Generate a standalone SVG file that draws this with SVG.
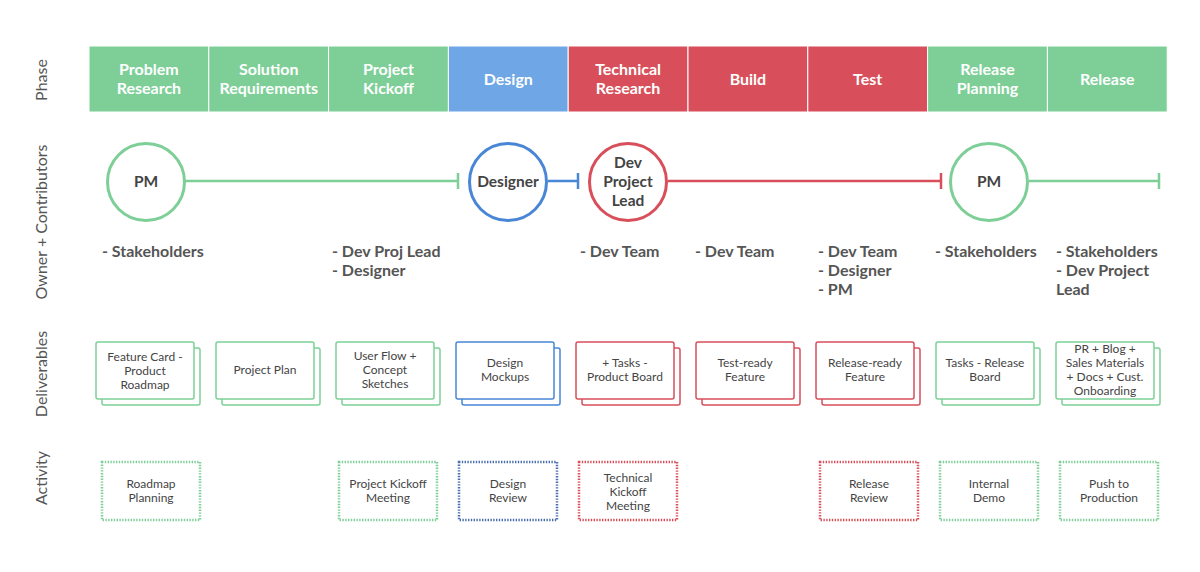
<svg xmlns="http://www.w3.org/2000/svg" width="1200" height="572" viewBox="0 0 1200 572">
<style>
.ph{stroke:#fff;stroke-width:1}
.g{fill:#7dcf97}.b{fill:#6ea6e6}.r{fill:#d84f5b}
.pt{font-family:Lato,"Liberation Sans",sans-serif;font-size:16px;font-weight:bold;fill:#fff;text-anchor:middle}
.rl{font-family:Lato,"Liberation Sans",sans-serif;font-size:16px;fill:#555;text-anchor:middle}
.ct{font-family:Lato,"Liberation Sans",sans-serif;font-size:16px;font-weight:bold;fill:#555}
.cn{font-family:Lato,"Liberation Sans",sans-serif;font-size:15.5px;font-weight:bold;fill:#444;text-anchor:middle}
.bt{font-family:Lato,"Liberation Sans",sans-serif;font-size:12px;fill:#444;text-anchor:middle}
.circ{fill:#fff;stroke-width:3}
.box{fill:#fff;stroke-width:1.5}
.act{fill:#fff;stroke-width:2.5;stroke-dasharray:1.4 1.4}
.sg{stroke:#7dcf97}.sb{stroke:#4a86d6}.sr{stroke:#d84f5b}.sbd{stroke:#4a6fae}
.ln{stroke-width:2.5;fill:none}
</style>

<g id="row-labels">
<text class="rl" transform="translate(47,80) rotate(-90)">Phase</text>
<text class="rl" transform="translate(47,222) rotate(-90)">Owner + Contributors</text>
<text class="rl" transform="translate(47,374) rotate(-90)">Deliverables</text>
<text class="rl" transform="translate(47,478) rotate(-90)">Activity</text>
</g>

<g id="phases">
<g id="phase-1"><rect class="ph g" x="89" y="46" width="119.8" height="66"/><text class="pt" x="148.9" y="75">Problem</text><text class="pt" x="148.9" y="94">Research</text></g>
<g id="phase-2"><rect class="ph g" x="208.8" y="46" width="119.8" height="66"/><text class="pt" x="268.7" y="75">Solution</text><text class="pt" x="268.7" y="94">Requirements</text></g>
<g id="phase-3"><rect class="ph g" x="328.6" y="46" width="119.8" height="66"/><text class="pt" x="388.5" y="75">Project</text><text class="pt" x="388.5" y="94">Kickoff</text></g>
<g id="phase-4"><rect class="ph b" x="448.4" y="46" width="119.8" height="66"/><text class="pt" x="508.3" y="85">Design</text></g>
<g id="phase-5"><rect class="ph r" x="568.2" y="46" width="119.8" height="66"/><text class="pt" x="628.1" y="75">Technical</text><text class="pt" x="628.1" y="94">Research</text></g>
<g id="phase-6"><rect class="ph r" x="688" y="46" width="119.8" height="66"/><text class="pt" x="747.9" y="85">Build</text></g>
<g id="phase-7"><rect class="ph r" x="807.8" y="46" width="119.8" height="66"/><text class="pt" x="867.7" y="85">Test</text></g>
<g id="phase-8"><rect class="ph g" x="927.6" y="46" width="119.8" height="66"/><text class="pt" x="987.5" y="75">Release</text><text class="pt" x="987.5" y="94">Planning</text></g>
<g id="phase-9"><rect class="ph g" x="1047.4" y="46" width="119.8" height="66"/><text class="pt" x="1107.3" y="85">Release</text></g>
</g>

<g id="connectors">
<path class="ln sg" d="M185 181H458M458 173V189"/>
<path class="ln sb" d="M548 181H578M578 173V189"/>
<path class="ln sr" d="M668 181H941M941 173V189"/>
<path class="ln sg" d="M1029 181H1159M1159 173V189"/>
</g>

<g id="owner-pm-1"><circle class="circ sg" cx="146" cy="182" r="38.5"/><text class="cn" x="146" y="187">PM</text></g>
<g id="owner-designer"><circle class="circ sb" cx="508" cy="182" r="38.5"/><text class="cn" x="508" y="187">Designer</text></g>
<g id="owner-dev-lead"><circle class="circ sr" cx="628" cy="182" r="38.5"/><text class="cn" x="628" y="168">Dev</text><text class="cn" x="628" y="187">Project</text><text class="cn" x="628" y="206">Lead</text></g>
<g id="owner-pm-2"><circle class="circ sg" cx="989" cy="182" r="38.5"/><text class="cn" x="989" y="187">PM</text></g>

<g id="contributors">
<text class="ct" x="102" y="257">- Stakeholders</text>
<text class="ct" x="332" y="257">- Dev Proj Lead</text><text class="ct" x="332" y="276">- Designer</text>
<text class="ct" x="580" y="257">- Dev Team</text>
<text class="ct" x="695" y="257">- Dev Team</text>
<text class="ct" x="818" y="257">- Dev Team</text><text class="ct" x="818" y="276">- Designer</text><text class="ct" x="818" y="295">- PM</text>
<text class="ct" x="935" y="257">- Stakeholders</text>
<text class="ct" x="1056" y="257">- Stakeholders</text><text class="ct" x="1056" y="276">- Dev Project</text><text class="ct" x="1056" y="295">Lead</text>
</g>

<g id="deliverables">
<g id="del-1"><rect class="box sg" x="102" y="348" width="98" height="57" rx="2"/><rect class="box sg" x="96" y="342" width="98" height="57" rx="2"/><text class="bt" x="145" y="361">Feature Card -</text><text class="bt" x="145" y="375">Product</text><text class="bt" x="145" y="389">Roadmap</text></g>
<g id="del-2"><rect class="box sg" x="222" y="348" width="98" height="57" rx="2"/><rect class="box sg" x="216" y="342" width="98" height="57" rx="2"/><text class="bt" x="265" y="374">Project Plan</text></g>
<g id="del-3"><rect class="box sg" x="342" y="348" width="98" height="57" rx="2"/><rect class="box sg" x="336" y="342" width="98" height="57" rx="2"/><text class="bt" x="385" y="360">User Flow +</text><text class="bt" x="385" y="374">Concept</text><text class="bt" x="385" y="388">Sketches</text></g>
<g id="del-4"><rect class="box sb" x="462" y="348" width="98" height="57" rx="2"/><rect class="box sb" x="456" y="342" width="98" height="57" rx="2"/><text class="bt" x="505" y="367">Design</text><text class="bt" x="505" y="381">Mockups</text></g>
<g id="del-5"><rect class="box sr" x="582" y="348" width="98" height="57" rx="2"/><rect class="box sr" x="576" y="342" width="98" height="57" rx="2"/><text class="bt" x="625" y="367">+ Tasks -</text><text class="bt" x="625" y="381">Product Board</text></g>
<g id="del-6"><rect class="box sr" x="702" y="348" width="98" height="57" rx="2"/><rect class="box sr" x="696" y="342" width="98" height="57" rx="2"/><text class="bt" x="745" y="367">Test-ready</text><text class="bt" x="745" y="381">Feature</text></g>
<g id="del-7"><rect class="box sr" x="822" y="348" width="98" height="57" rx="2"/><rect class="box sr" x="816" y="342" width="98" height="57" rx="2"/><text class="bt" x="865" y="367">Release-ready</text><text class="bt" x="865" y="381">Feature</text></g>
<g id="del-8"><rect class="box sg" x="942" y="348" width="98" height="57" rx="2"/><rect class="box sg" x="936" y="342" width="98" height="57" rx="2"/><text class="bt" x="985" y="367">Tasks - Release</text><text class="bt" x="985" y="381">Board</text></g>
<g id="del-9"><rect class="box sg" x="1062" y="348" width="98" height="57" rx="2"/><rect class="box sg" x="1056" y="342" width="98" height="57" rx="2"/><text class="bt" x="1105" y="353">PR + Blog +</text><text class="bt" x="1105" y="367">Sales Materials</text><text class="bt" x="1105" y="381">+ Docs + Cust.</text><text class="bt" x="1105" y="395">Onboarding</text></g>
</g>

<g id="activities">
<g id="act-1"><rect class="act sg" x="102" y="462" width="98" height="58"/><text class="bt" x="151" y="488">Roadmap</text><text class="bt" x="151" y="502">Planning</text></g>
<g id="act-3"><rect class="act sg" x="339" y="462" width="98" height="58"/><text class="bt" x="388" y="488">Project Kickoff</text><text class="bt" x="388" y="502">Meeting</text></g>
<g id="act-4"><rect class="act sbd" x="459" y="462" width="98" height="58"/><text class="bt" x="508" y="488">Design</text><text class="bt" x="508" y="502">Review</text></g>
<g id="act-5"><rect class="act sr" x="579" y="462" width="98" height="58"/><text class="bt" x="628" y="482">Technical</text><text class="bt" x="628" y="496">Kickoff</text><text class="bt" x="628" y="510">Meeting</text></g>
<g id="act-7"><rect class="act sr" x="820" y="462" width="98" height="58"/><text class="bt" x="869" y="488">Release</text><text class="bt" x="869" y="502">Review</text></g>
<g id="act-8"><rect class="act sg" x="940" y="462" width="98" height="58"/><text class="bt" x="989" y="488">Internal</text><text class="bt" x="989" y="502">Demo</text></g>
<g id="act-9"><rect class="act sg" x="1060" y="462" width="98" height="58"/><text class="bt" x="1109" y="488">Push to</text><text class="bt" x="1109" y="502">Production</text></g>
</g>
</svg>
